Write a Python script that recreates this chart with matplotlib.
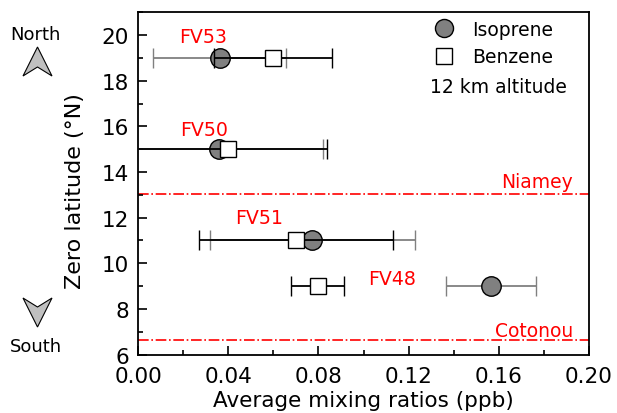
import matplotlib
matplotlib.use("Agg")
import matplotlib.pyplot as plt
from matplotlib.patches import Polygon
from matplotlib.lines import Line2D
from matplotlib.ticker import MultipleLocator, FormatStrFormatter

plt.rcParams['font.family'] = ['DejaVu Sans']

flights = ["FV53", "FV50", "FV51", "FV48"]
latitude = [19, 15, 11, 9]
isoprene = [0.0363, 0.0359, 0.0773, 0.1565]
isoprene_err = [0.0295, 0.046, 0.0455, 0.020]
benzene = [0.0598, 0.0397, 0.0701, 0.0797]
benzene_err = [0.026, 0.044, 0.043, 0.0118]
niamey_lat = 13.05
cotonou_lat = 6.63

fig = plt.figure(figsize=(6.17, 4.14), dpi=100)
ax = fig.add_axes([0.2237, 0.1413, 0.731, 0.8266])

ax.errorbar(isoprene, latitude, xerr=isoprene_err, fmt='o', ms=14,
            mfc='#808080', mec='black', mew=1.0, ecolor='#808080',
            elinewidth=1.3, capsize=7.5, capthick=1.3, zorder=3)
ax.errorbar(benzene, latitude, xerr=benzene_err, fmt='s', ms=12,
            mfc='white', mec='black', mew=1.0, ecolor='black',
            elinewidth=1.3, capsize=7.5, capthick=1.3, zorder=4)

ax.axhline(niamey_lat, color='red', ls='-.', lw=1.2, zorder=1)
ax.axhline(cotonou_lat, color='red', ls='-.', lw=1.2, zorder=1)

label_pos = {"FV53": (0.0288, 19.95), "FV50": (0.0292, 15.87),
             "FV51": (0.0537, 11.99), "FV48": (0.1126, 9.33)}
for f in flights:
    x, y = label_pos[f]
    ax.text(x, y, f, color='red', fontsize=13.7, ha='center', va='center')

ax.text(0.1929, 13.35, "Niamey", color='red', fontsize=13.5, ha='right', va='baseline')
ax.text(0.1929, 6.82, "Cotonou", color='red', fontsize=13.5, ha='right', va='baseline')

ax.set_xlim(0, 0.20)
ax.set_ylim(6, 21)
ax.xaxis.set_major_locator(MultipleLocator(0.04))
ax.xaxis.set_minor_locator(MultipleLocator(0.02))
ax.yaxis.set_major_locator(MultipleLocator(2))
ax.yaxis.set_minor_locator(MultipleLocator(1))
ax.xaxis.set_major_formatter(FormatStrFormatter('%.2f'))
ax.tick_params(which='both', direction='in', labelsize=15.5, width=1.2)
ax.tick_params(which='major', length=6.5)
ax.tick_params(which='minor', length=3.6)
ax.tick_params(axis='x', pad=8)
ax.tick_params(axis='y', pad=6.5)
for s in ax.spines.values():
    s.set_linewidth(1.3)

ax.set_xlabel("Average mixing ratios (ppb)", fontsize=15.5)
ax.set_ylabel("Zero latitude (°N)", fontsize=16)
ax.xaxis.set_label_coords(0.5, -0.1037)
ax.yaxis.set_label_coords(-0.118, 0.481)

handles = [Line2D([], [], marker='o', ls='none', ms=13, mfc='#808080', mec='black', mew=1.0),
           Line2D([], [], marker='s', ls='none', ms=12, mfc='white', mec='black', mew=1.0)]
leg = ax.legend(handles, ["Isoprene", "Benzene"], loc='upper left', frameon=False,
                fontsize=13.5, bbox_to_anchor=(0.658, 0.978), handlelength=1.0,
                handletextpad=1.0, labelspacing=0.45, borderaxespad=0, borderpad=0)
ax.text(0.799, 0.782, "12 km altitude", transform=ax.transAxes, fontsize=13.5,
        ha='center', va='center')

W, H = 617, 414
def fp(pts):
    return [(x / W, 1 - y / H) for x, y in pts]

up = Polygon(fp([(37.5, 48), (52, 77), (37.5, 68), (23, 77)]), closed=True,
             transform=fig.transFigure, facecolor='#c0c0c0', edgecolor='black', lw=0.8)
down = Polygon(fp([(37.5, 328), (52, 299), (37.5, 308), (23, 299)]), closed=True,
               transform=fig.transFigure, facecolor='#c0c0c0', edgecolor='black', lw=0.8)
fig.patches.extend([up, down])
fig.text(35.5 / W, 1 - 35 / H, "North", fontsize=13, ha='center', va='center')
fig.text(35.5 / W, 1 - 347 / H, "South", fontsize=13, ha='center', va='center')

fig.savefig("out.png", dpi=100)
